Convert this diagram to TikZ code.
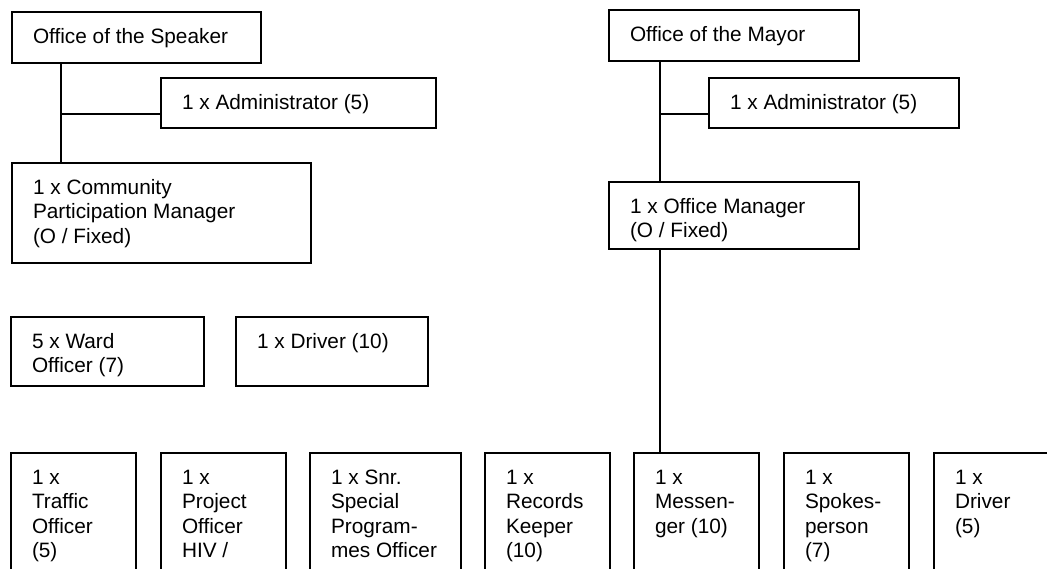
\documentclass[tikz,border=0pt]{standalone}
\usepackage{fontspec}
\setmainfont{Liberation Sans}
\newcommand\orgfont{\fontsize{20.8pt}{24.3pt}\selectfont}
% fixed-size cell with text set from the top-left corner
\newcommand\cell[3]{\parbox[t][#2pt][t]{#1pt}{\raggedright\leftskip=21pt\rule{0pt}{31.5pt}#3}}
\tikzset{
  post/.style={draw, line width=1.8pt, anchor=north west, inner sep=0pt, outer sep=0pt, font=\orgfont},
  link/.style={line width=1.8pt},
}
\begin{document}
\begin{tikzpicture}[x=1pt, y=-1pt]
\path[use as bounding box] (0,0) rectangle (1047,569);
\clip (0,0) rectangle (1047,569);

% Speaker's office
\node[post] (speaker)   at (12,12)   {\cell{249}{51}{Office of the Speaker}};
\node[post] (sadmin)    at (161,78)  {\cell{275}{50}{1 x Administrator (5)}};
\node[post] (community) at (12,163)  {\cell{299}{100}{1 x Community\\Participation Manager\\(O / Fixed)}};
\node[post] (ward)      at (11,317)  {\cell{193}{69}{5 x Ward\\Officer (7)}};
\node[post] (driverA)   at (236,317) {\cell{192}{69}{1 x Driver (10)}};

% Mayor's office
\node[post] (mayor)     at (609,10)  {\cell{250}{51}{Office of the Mayor}};
\node[post] (madmin)    at (709,78)  {\cell{250}{50}{1 x Administrator (5)}};
\node[post] (manager)   at (609,182) {\cell{250}{67}{1 x Office Manager\\(O / Fixed)}};

% bottom row
\node[post] (traffic)   at (11,453)  {\cell{125}{150}{1 x\\Traffic\\Officer\\(5)}};
\node[post] (project)   at (161,453) {\cell{125}{150}{1 x\\Project\\Officer\\HIV /}};
\node[post] (special)   at (310,453) {\cell{151}{150}{1 x Snr.\\Special\\Program-\\mes Officer}};
\node[post] (records)   at (485,453) {\cell{125}{150}{1 x\\Records\\Keeper\\(10)}};
\node[post] (messenger) at (634,453) {\cell{125}{150}{1 x\\Messen-\\ger (10)}};
\node[post] (spokes)    at (784,453) {\cell{125}{150}{1 x\\Spokes-\\person\\(7)}};
\node[post] (driverB)   at (934,453) {\cell{125}{150}{1 x\\Driver\\(5)}};

% connectors
\coordinate (sj) at (61,114);
\coordinate (mj) at (660,114);
\draw[link] (speaker.south -| sj) -- (community.north -| sj);
\draw[link] (sj) -- (sadmin.west |- sj);
\draw[link] (mayor.south -| mj) -- (manager.north -| mj);
\draw[link] (mj) -- (madmin.west |- mj);
\draw[link] (manager.south -| mj) -- (messenger.north -| mj);
\end{tikzpicture}
\end{document}
